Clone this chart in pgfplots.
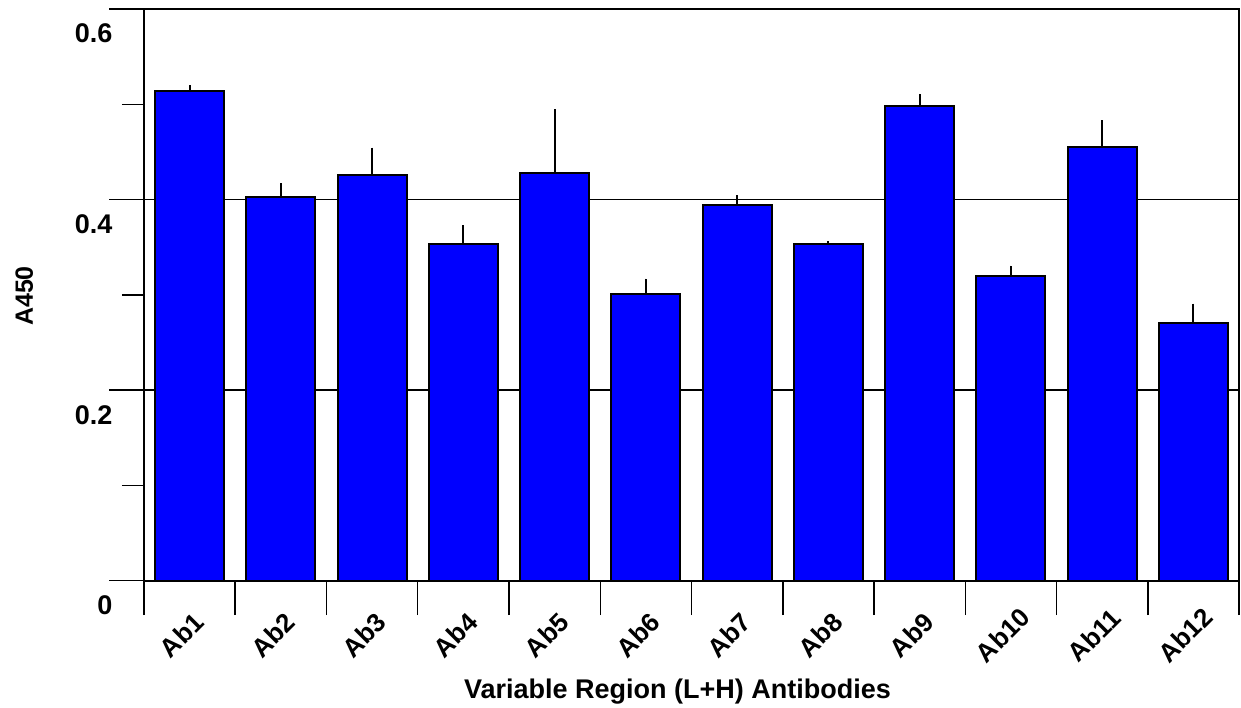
\documentclass[border=0pt]{standalone}
\usepackage{fontspec}
\setmainfont{Liberation Sans}
\usepackage{pgfplots}
\usepackage{pgfplotstable}
\pgfplotsset{compat=1.18}
\pgfplotstableread{
x y e
0 0.5136 0.0063
1 0.4025 0.0144
2 0.4255 0.0291
3 0.3535 0.0196
4 0.4282 0.0665
5 0.3006 0.0165
6 0.3941 0.0102
7 0.3535 0.0028
8 0.4982 0.0126
9 0.3202 0.0105
10 0.4548 0.0284
11 0.2708 0.0200
}\datatable
\begin{document}
\begin{tikzpicture}
\path[use as bounding box] (-144pt,-127.3pt) rectangle (1097pt,580.7pt);
\begin{axis}[
  at={(0,0)}, anchor=south west,
  width=1095pt, height=571.7pt, scale only axis,
  xmin=-0.5, xmax=11.5, ymin=0, ymax=0.6,
  axis line style={line width=2pt, black},
  xtick={-0.5,0.5,...,11.5},
  xticklabels={Ab1,Ab2,Ab3,Ab4,Ab5,Ab6,Ab7,Ab8,Ab9,Ab10,Ab11,Ab12},
  x tick label as interval,
  xtick pos=bottom,
  xtick style={line width=1.5pt, black},
  ytick={0,0.2,0.4,0.6},
  yticklabels={0,0.2,0.4,0.6},
  minor ytick={0.1,0.3,0.5},
  ytick pos=left,
  tick align=outside,
  major tick length=34.5pt,
  minor tick length=22pt,
  ytick style={line width=1.5pt, black},
  ymajorgrids,
  grid style={line width=1.5pt, black},
  /pgf/number format/assume math mode=true,
  yticklabel style={font=\fontsize{27}{32}\selectfont\bfseries, anchor=base east, inner sep=0pt, xshift=3pt, yshift=-34pt},
  xticklabel style={font=\fontsize{26}{31}\selectfont\bfseries, xshift=-8pt, yshift=-20pt, rotate=45, anchor=center, inner sep=0pt},
  xlabel={Variable Region (L+H) Antibodies},
  ylabel={A450},
  xlabel style={font=\fontsize{27}{32}\selectfont\bfseries, at={(axis description cs:0.4872,-0.2067)}, anchor=base, inner sep=0pt},
  ylabel style={font=\fontsize{25}{30}\selectfont\bfseries, at={(axis description cs:-0.1014,0.498)}, anchor=base, rotate=0, inner sep=0pt},
  ybar, bar width=0.756,
]
\addplot[fill={rgb,255:red,0;green,0;blue,255}, draw=black, line width=2pt,
  error bars/.cd, y dir=plus, y explicit, error mark=none,
  error bar style={line width=2pt, black}]
  table[x=x, y=y, y error=e] {\datatable};
\end{axis}
\end{tikzpicture}
\end{document}
